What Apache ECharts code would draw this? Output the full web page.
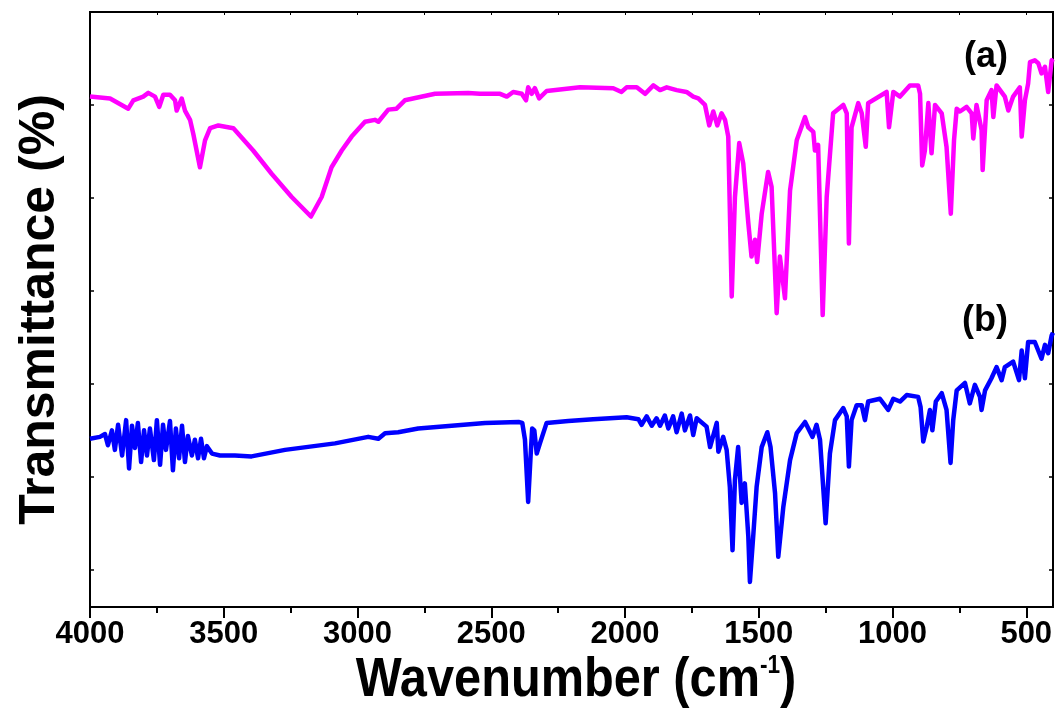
<!DOCTYPE html>
<html>
<head>
<meta charset="utf-8">
<script src="https://cdn.jsdelivr.net/npm/echarts@6/dist/echarts.min.js"></script>
<style>html,body{margin:0;padding:0;background:#fff}#c{width:1062px;height:717px}</style>
</head>
<body>
<div id="c"></div>
<script>
// Wavenumber tick labels
const xTickLabels = [4000, 3500, 3000, 2500, 2000, 1500, 1000, 500];
const xMinorTicks = [3750, 3250, 2750, 2250, 1750, 1250, 750];
const yTicks = [4, 14, 24, 34, 44, 54];

// Series (a) – magenta
const wnA = [4000,3925,3857,3838,3801,3782,3757,3741,3726,3701,3682,3676,3657,3645,3626,3614,3589,3570,3551,3520,3464,3390,3321,3246,3174,3134,3097,3059,3022,2972,2935,2922,2885,2854,2823,2710,2586,2542,2467,2442,2418,2386,2370,2362,2349,2337,2321,2293,2168,2044,2013,1994,1956,1925,1894,1869,1844,1807,1770,1745,1726,1701,1685,1670,1655,1639,1626,1614,1601,1589,1573,1558,1539,1527,1514,1506,1489,1465,1452,1433,1421,1402,1383,1358,1327,1315,1296,1290,1278,1261,1246,1222,1184,1171,1163,1153,1128,1115,1100,1091,1022,1013,997,972,935,904,897,889,879,866,854,841,816,798,782,770,760,748,723,704,698,686,667,663,648,630,623,611,580,567,549,524,517,505,493,486,468,455,443,430,418,405,400];
const tA = [54.9,54.7,53.6,54.5,54.9,55.3,54.9,53.8,55.1,55.1,54.5,53.4,54.7,53.4,52.4,50.9,47.3,50.2,51.5,51.8,51.5,49.1,46.6,44.1,42.0,44.1,47.3,49.1,50.6,52.2,52.4,52.2,53.5,53.6,54.5,55.2,55.3,55.2,55.2,54.9,55.4,55.2,54.5,55.9,55.2,55.8,54.7,55.5,55.9,55.8,55.4,55.9,55.9,55.2,56.1,55.6,55.9,55.6,55.4,54.9,54.7,54.0,51.8,53.3,51.8,53.1,52.4,50.6,33.4,44.1,49.9,47.7,41.3,37.7,39.5,37.1,42.3,46.8,45.2,31.6,37.7,33.2,44.8,50.2,52.7,51.6,51.1,49.1,49.7,31.4,44.1,53.1,54.0,53.1,39.1,51.6,54.2,53.1,49.5,54.2,55.4,51.6,55.4,54.9,56.1,56.1,55.2,47.5,49.1,54.2,48.8,54.0,53.1,49.5,42.3,50.2,53.6,53.3,53.8,53.1,50.4,54.0,51.3,47.0,54.5,55.6,52.7,56.1,54.9,53.4,54.9,55.9,50.6,54.5,56.3,58.6,58.8,58.5,57.4,58.1,55.4,58.8,58.6];

// Series (b) – blue
const wnB = [4000,3963,3944,3933,3918,3907,3895,3880,3865,3854,3843,3832,3821,3809,3798,3787,3776,3761,3750,3738,3727,3716,3701,3690,3679,3667,3656,3645,3634,3619,3608,3596,3585,3574,3563,3544,3514,3458,3396,3271,3084,2960,2922,2897,2848,2773,2648,2523,2398,2384,2374,2362,2353,2347,2339,2330,2318,2293,2212,2119,1994,1950,1938,1919,1900,1882,1869,1851,1838,1820,1807,1788,1776,1757,1745,1732,1695,1682,1657,1651,1633,1620,1608,1598,1589,1577,1564,1552,1539,1533,1520,1508,1489,1468,1456,1439,1427,1408,1383,1358,1327,1299,1284,1271,1250,1234,1215,1184,1171,1163,1153,1134,1115,1103,1091,1047,1016,997,972,947,904,895,885,872,860,851,838,816,798,783,773,760,729,711,692,673,667,654,630,611,592,580,549,527,517,505,493,468,443,430,418,405,400];
const tB = [18.1,18.3,18.6,17.4,19.0,16.9,19.6,16.3,20.1,14.9,19.5,17.1,19.8,15.6,19.0,16.3,19.2,15.8,20.1,15.3,19.6,16.9,20.0,14.7,19.2,16.0,19.5,15.6,18.4,16.3,18.0,16.0,18.1,16.0,17.3,16.5,16.3,16.3,16.2,16.9,17.6,18.3,18.1,18.7,18.8,19.2,19.5,19.8,19.9,19.8,18.0,11.3,16.2,19.2,19.0,16.5,17.6,19.8,20.0,20.2,20.4,20.2,19.6,20.5,19.5,20.3,19.5,20.6,19.2,20.5,18.8,20.8,19.0,20.6,18.5,20.3,19.4,17.2,19.8,16.7,18.3,16.9,12.9,6.1,13.7,17.2,11.2,13.3,7.6,2.7,7.9,12.9,17.2,18.8,17.2,12.2,5.4,10.8,15.8,18.7,19.9,18.3,19.6,18.0,9.0,16.5,20.1,21.4,20.5,15.1,20.1,21.7,21.7,20.1,22.1,22.4,21.2,22.4,22.1,22.8,22.6,21.5,17.8,19.4,21.2,19.0,22.1,23.0,21.2,15.5,20.1,23.3,24.1,21.9,23.9,22.6,21.2,23.3,24.6,25.8,24.4,25.8,26.4,24.4,27.6,24.6,28.5,28.5,26.7,28.2,27.3,29.2,29.5];

const dataA = wnA.map((w, i) => [w, tA[i]]);
const dataB = wnB.map((w, i) => [w, tB[i]]);

const fontFam = "'Liberation Sans',Arial,sans-serif";

const chart = echarts.init(document.getElementById('c'), null, {renderer: 'canvas'});
const allX = xTickLabels.concat(xMinorTicks);
chart.setOption({
  animation: false,
  backgroundColor: '#fff',
  grid: {left: 90, top: 12, right: 9, bottom: 110, show: true, borderColor: '#000', borderWidth: 2},
  xAxis: [
    {
      type: 'value', min: 400, max: 4000, inverse: true, position: 'bottom',
      axisLine: {show: true, onZero: false, lineStyle: {color: '#000', width: 2}},
      axisTick: {show: true, inside: false, length: 11, customValues: xTickLabels, lineStyle: {color: '#000', width: 2}},
      axisLabel: {show: true, customValues: xTickLabels, margin: 12, color: '#000', fontSize: 31, fontWeight: 'bold', fontFamily: fontFam,
        formatter: function (v) { return String(v); }},
      splitLine: {show: false}
    },
    {
      type: 'value', min: 400, max: 4000, inverse: true, position: 'bottom', gridIndex: 0,
      axisLine: {show: false, onZero: false},
      axisTick: {show: true, inside: false, length: 6, customValues: xMinorTicks, lineStyle: {color: '#000', width: 2}},
      axisLabel: {show: false},
      splitLine: {show: false}
    },
    {
      type: 'value', min: 400, max: 4000, inverse: true, position: 'top', gridIndex: 0,
      axisLine: {show: true, onZero: false, lineStyle: {color: '#000', width: 2}},
      axisTick: {show: true, inside: true, length: 3, customValues: allX, lineStyle: {color: '#000', width: 1}},
      axisLabel: {show: false},
      splitLine: {show: false}
    }
  ],
  yAxis: [
    {
      type: 'value', min: 0, max: 64, position: 'left',
      axisLine: {show: true, onZero: false, lineStyle: {color: '#000', width: 2}},
      axisTick: {show: true, inside: true, length: 4, customValues: yTicks, lineStyle: {color: '#000', width: 1.5}},
      axisLabel: {show: false},
      splitLine: {show: false},
      name: 'Transmittance (%)',
      nameLocation: 'middle', nameGap: 25,
      nameTextStyle: {color: '#000', fontSize: 50, fontWeight: 'bold', fontFamily: fontFam}
    },
    {
      type: 'value', min: 0, max: 64, position: 'right',
      axisLine: {show: true, onZero: false, lineStyle: {color: '#000', width: 2}},
      axisTick: {show: true, inside: true, length: 4, customValues: yTicks, lineStyle: {color: '#000', width: 1.5}},
      axisLabel: {show: false},
      splitLine: {show: false}
    }
  ],
  series: [
    {name: '(a)', type: 'line', xAxisIndex: 0, yAxisIndex: 0, data: dataA, showSymbol: false, symbol: 'none',
     lineStyle: {color: '#FF00FF', width: 4.5, join: 'round'}, itemStyle: {color: '#FF00FF'}},
    {name: '(b)', type: 'line', xAxisIndex: 0, yAxisIndex: 0, data: dataB, showSymbol: false, symbol: 'none',
     lineStyle: {color: '#0000FF', width: 4.5, join: 'round'}, itemStyle: {color: '#0000FF'}}
  ],
  graphic: [
    {type: 'text', x: 576, y: 653, scaleX: 0.87,
     style: {text: 'Wavenumber (cm{sup|-1})', align: 'center', verticalAlign: 'top',
       font: "bold 56px 'Liberation Sans', Arial", fill: '#000',
       rich: {sup: {font: "bold 26px 'Liberation Sans', Arial", fill: '#000', padding: [0, 0, 30, 0]}}}},
    {type: 'text', left: 964, top: 39, style: {text: '(a)', font: "bold 36px 'Liberation Sans', Arial", fill: '#000'}},
    {type: 'text', left: 962, top: 303, style: {text: '(b)', font: "bold 36px 'Liberation Sans', Arial", fill: '#000'}}
  ]
});
</script>
</body>
</html>
